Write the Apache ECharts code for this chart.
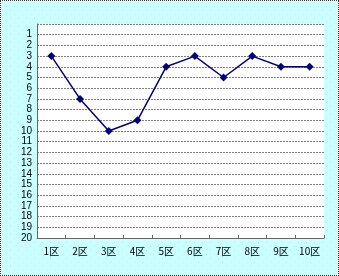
<!DOCTYPE html>
<html><head><meta charset="utf-8">
<style>html,body{margin:0;padding:0;background:#fff}#c{width:339px;height:276px;box-sizing:border-box;border:1px dotted #333}</style>
<script src="https://cdn.jsdelivr.net/npm/echarts@6/dist/echarts.min.js"></script>
</head><body><div id="c"></div>
<script>
var categories = ['1区','2区','3区','4区','5区','6区','7区','8区','9区','10区'];
var values = [3,7,10,9,4,3,5,3,4,4];
var yMin = 0, yMax = 20, yStep = 1;

var pc = document.createElement('canvas');
pc.width = 8; pc.height = 8;
var g = pc.getContext('2d');
g.fillStyle = '#ccffff'; g.fillRect(0,0,8,8);
g.fillStyle = '#a8e8f0'; g.fillRect(1,1,1,1); g.fillRect(5,5,1,1);

var chart = echarts.init(document.getElementById('c'), null, {renderer:'canvas'});
chart.setOption({
  backgroundColor: {image: pc, repeat: 'repeat'},
  animation: false,
  grid: {left: 36, right: 14, top: 23, bottom: 37, backgroundColor: '#fff', show: true, borderWidth: 0},
  xAxis: {
    type: 'category', data: categories, boundaryGap: true, position: 'bottom',
    axisLine: {onZero: false, lineStyle: {color: '#666', width: 1}},
    axisTick: {show: true, inside: true, length: 3, lineStyle: {color: '#666'}},
    axisLabel: {interval: 0, color: '#000', fontSize: 10, margin: 8, fontFamily: 'Noto Sans CJK JP'}
  },
  yAxis: {
    type: 'value', inverse: true, min: yMin, max: yMax, interval: yStep,
    axisLine: {show: true, lineStyle: {color: '#666', width: 1}},
    axisTick: {show: false},
    splitLine: {show: true, lineStyle: {color: '#808080', type: [2,1], width: 1}},
    axisLabel: {showMaxLabel: true, showMinLabel: true, hideOverlap: false, color: '#000', fontSize: 10, lineHeight: 9, margin: 5, fontFamily: 'Liberation Sans',
      formatter: function(v){ return v === 0 ? '' : String(v); }}
  },
  series: [{
    type: 'line', data: values,
    symbol: 'diamond', symbolSize: 8,
    lineStyle: {color: '#000080', width: 1.5},
    itemStyle: {color: '#000080'}
  }]
});
</script></body></html>
